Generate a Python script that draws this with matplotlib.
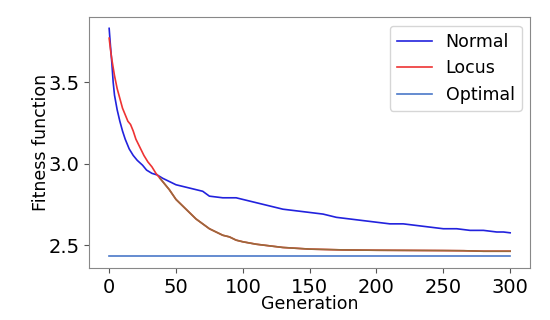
import matplotlib
matplotlib.use("Agg")
import matplotlib.pyplot as plt

gen_normal = [0, 1, 2, 3, 4, 6, 8, 10, 12, 15, 18, 21, 25, 28, 32, 36, 40, 45, 50, 55,
              60, 70, 75, 85, 95, 100, 110, 120, 130, 140, 150, 160, 170, 180, 190,
              200, 210, 220, 230, 240, 250, 260, 270, 280, 290, 295, 300]
normal = [3.83, 3.72, 3.62, 3.50, 3.42, 3.33, 3.26, 3.20, 3.15, 3.09, 3.05, 3.02, 2.99,
          2.96, 2.94, 2.93, 2.91, 2.89, 2.87, 2.86, 2.85, 2.83, 2.80, 2.79, 2.79, 2.78,
          2.76, 2.74, 2.72, 2.71, 2.70, 2.69, 2.67, 2.66, 2.65, 2.64, 2.63, 2.63,
          2.62, 2.61, 2.60, 2.60, 2.59, 2.59, 2.58, 2.58, 2.575]

gen_locus = [0, 1, 2, 4, 6, 8, 10, 12, 14, 16, 18, 20, 23, 26, 29, 32, 35, 38, 41, 45,
             50, 55, 60, 65, 70, 75, 80, 85, 90, 95, 100, 110, 120, 130, 140, 150,
             175, 200, 225, 250, 265, 280, 300]
locus = [3.77, 3.70, 3.64, 3.54, 3.46, 3.40, 3.34, 3.30, 3.26, 3.24, 3.20, 3.15, 3.10,
         3.05, 3.01, 2.98, 2.94, 2.91, 2.88, 2.84, 2.78, 2.74, 2.70, 2.66, 2.63, 2.60,
         2.58, 2.56, 2.55, 2.53, 2.52, 2.505, 2.495, 2.485, 2.48, 2.475, 2.47, 2.468,
         2.467, 2.466, 2.465, 2.462, 2.462]

gen_optimal = [0, 300]
optimal = [2.43, 2.43]

plt.rcParams["font.family"] = "DejaVu Sans"
fig = plt.figure(figsize=(5.5, 3.2), dpi=100)
ax = fig.add_axes([0.162, 0.163, 0.802, 0.784])

ax.plot(gen_normal, normal, color="#2222dd", lw=1.2, label="Normal")
ax.plot(gen_locus, locus, color="#ee3333", lw=1.2, label="Locus")
split = 17
ax.plot(gen_locus[split:], locus[split:], color="#9a6a3c", lw=1.2)
ax.plot(gen_optimal, optimal, color="#4a78c8", lw=1.2, label="Optimal")

ax.set_xticks([0, 50, 100, 150, 200, 250, 300])
ax.set_yticks([2.5, 3.0, 3.5])
ax.tick_params(labelsize=14, color="#555555")
ax.set_xlabel("Generation", fontsize=12.5, labelpad=-1)
ax.set_ylabel("Fitness function", fontsize=12.5, labelpad=-1)
for s in ax.spines.values():
    s.set_color("#888888")

ax.legend(fontsize=12.5, loc="upper right", handlelength=2.0)

fig.savefig("out.png", dpi=100)
